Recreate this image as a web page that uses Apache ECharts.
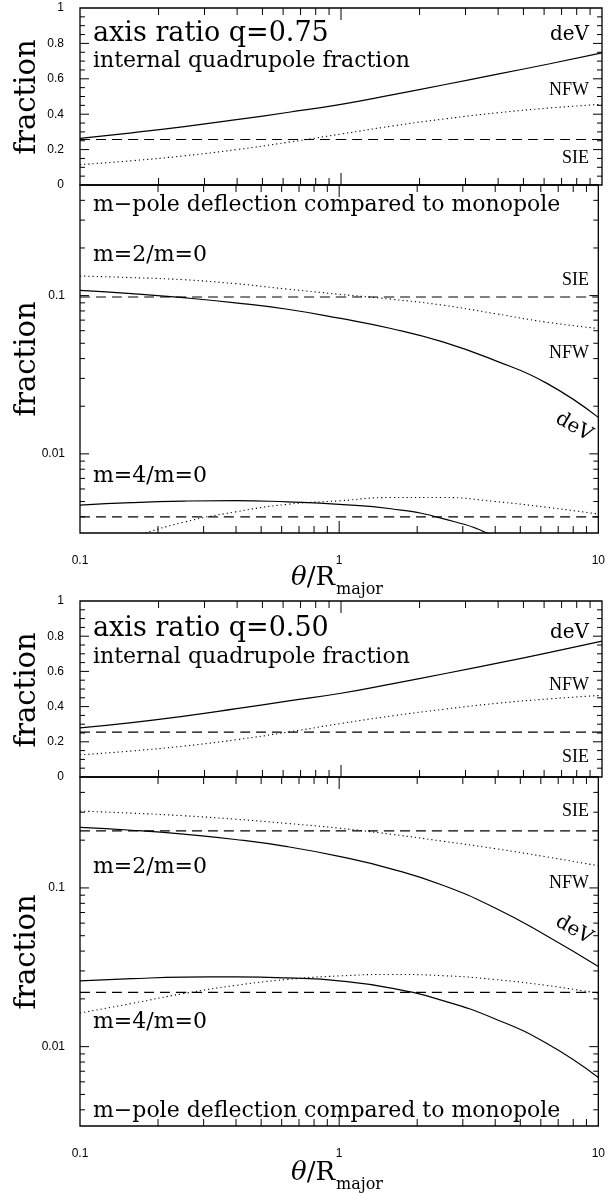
<!DOCTYPE html>
<html><head><meta charset="utf-8">
<script src="https://cdn.jsdelivr.net/npm/echarts@6/dist/echarts.min.js"></script>
<style>html,body{margin:0;padding:0;background:#fff}#c{width:608px;height:1193px}</style>
</head><body><div id="c"></div>
<script>
// ---------- data ----------
// theta / R_major sample points (five per decade)
const X = [0.1, 0.158, 0.251, 0.398, 0.631, 1, 1.585, 2.512, 3.981, 6.31, 10];

// q = 0.75 : internal quadrupole fraction
const q75_quad_deV = [0.263, 0.295, 0.330, 0.369, 0.411, 0.456, 0.511, 0.568, 0.626, 0.685, 0.746];
const q75_quad_NFW = [0.115, 0.137, 0.165, 0.200, 0.242, 0.288, 0.334, 0.374, 0.408, 0.435, 0.456];
const q75_quad_SIE = [0.257, 0.257, 0.257, 0.257, 0.257, 0.257, 0.257, 0.257, 0.257, 0.257, 0.257];
// q = 0.75 : m=2/m=0
const q75_m2_deV = [0.108, 0.103, 0.097, 0.090, 0.082, 0.072, 0.062, 0.051, 0.039, 0.028, 0.017];
const q75_m2_NFW = [0.133, 0.130, 0.126, 0.119, 0.110, 0.102, 0.095, 0.087, 0.077, 0.068, 0.062];
const q75_m2_SIE = [0.098, 0.098, 0.098, 0.098, 0.098, 0.098, 0.098, 0.098, 0.098, 0.098, 0.098];
// q = 0.75 : m=4/m=0
const q75_m4_deV = [0.00475, 0.00492, 0.00503, 0.00507, 0.00497, 0.0048, 0.0045, 0.0039, 0.0030, 0.0019, 0.0011];
const q75_m4_NFW = [0.0025, 0.0030, 0.0037, 0.0043, 0.0048, 0.00505, 0.0053, 0.0053, 0.0050, 0.0046, 0.00417];
const q75_m4_SIE = [0.0040, 0.0040, 0.0040, 0.0040, 0.0040, 0.0040, 0.0040, 0.0040, 0.0040, 0.0040, 0.0040];

// q = 0.50 : internal quadrupole fraction
const q50_quad_deV = [0.279, 0.309, 0.346, 0.388, 0.432, 0.476, 0.531, 0.588, 0.647, 0.708, 0.772];
const q50_quad_NFW = [0.126, 0.148, 0.176, 0.212, 0.256, 0.304, 0.348, 0.386, 0.419, 0.444, 0.464];
const q50_quad_SIE = [0.255, 0.255, 0.255, 0.255, 0.255, 0.255, 0.255, 0.255, 0.255, 0.255, 0.255];
// q = 0.50 : m=2/m=0
const q50_m2_deV = [0.241, 0.231, 0.218, 0.202, 0.182, 0.158, 0.132, 0.104, 0.075, 0.050, 0.032];
const q50_m2_NFW = [0.305, 0.296, 0.285, 0.271, 0.255, 0.238, 0.218, 0.197, 0.177, 0.157, 0.138];
const q50_m2_SIE = [0.229, 0.229, 0.229, 0.229, 0.229, 0.229, 0.229, 0.229, 0.229, 0.229, 0.229];
// q = 0.50 : m=4/m=0
const q50_m4_deV = [0.0260, 0.0268, 0.0274, 0.0275, 0.0271, 0.0260, 0.0234, 0.0195, 0.0150, 0.0105, 0.0064];
const q50_m4_NFW = [0.0163, 0.0187, 0.0216, 0.0243, 0.0265, 0.0279, 0.0285, 0.0280, 0.0265, 0.0243, 0.0217];
const q50_m4_SIE = [0.0220, 0.0220, 0.0220, 0.0220, 0.0220, 0.0220, 0.0220, 0.0220, 0.0220, 0.0220, 0.0220];

// ticks
const xMinorTicks = [0.2, 0.3, 0.4, 0.5, 0.6, 0.7, 0.8, 0.9, 2, 3, 4, 5, 6, 7, 8, 9];
const xMajorTicks = [1];
const linMajorTicks = [0.2, 0.4, 0.6, 0.8];
const linMinorTicks = [0.05, 0.1, 0.15, 0.25, 0.3, 0.35, 0.45, 0.5, 0.55, 0.65, 0.7, 0.75, 0.85, 0.9, 0.95];
const logMajorTicks = [0.01, 0.1];
const logMinorTicks = [0.004, 0.005, 0.006, 0.007, 0.008, 0.009, 0.02, 0.03, 0.04, 0.05, 0.06, 0.07, 0.08, 0.09, 0.2, 0.3, 0.4];
const xTickLabels = {0.1: '0.1', 1: '1', 10: '10'};
const logTickLabels = {0.01: '0.01', 0.1: '0.1'};

const LOG_MIN = 0.0031623, LOG_MAX = 0.5;

// ---------- layout ----------
const grids = [
  {left: 80, right: 6, top: 8, height: 177},
  {left: 80, right: 6, top: 185, height: 348},
  {left: 80, right: 6, top: 601, height: 176},
  {left: 80, right: 6, top: 777, height: 349}
];
const isLog = [false, true, false, true];

function near(v, t) { return Math.abs(Math.log10(v) - Math.log10(t)) < 1e-4; }

const LBL = {fontSize: 12, color: '#000', fontFamily: 'Liberation Sans'};
const xAxes = grids.map((g, i) => ({
  type: 'log', logBase: 10, gridIndex: i, min: 0.1, max: 10,
  axisLine: {show: false}, axisTick: {show: false}, splitLine: {show: false},
  axisLabel: Object.assign({
    show: isLog[i], margin: 22,
    formatter: v => { for (const k in xTickLabels) if (near(v, +k)) return xTickLabels[k]; return ''; }
  }, LBL)
}));
const yAxes = grids.map((g, i) => isLog[i] ? ({
  type: 'log', logBase: 10, gridIndex: i, min: LOG_MIN, max: LOG_MAX,
  axisLine: {show: false}, axisTick: {show: false}, splitLine: {show: false},
  axisLabel: Object.assign({
    margin: 15,
    formatter: v => { for (const k in logTickLabels) if (near(v, +k)) return logTickLabels[k]; return ''; }
  }, LBL)
}) : ({
  type: 'value', gridIndex: i, min: 0, max: 1, interval: 0.2,
  axisLine: {show: false}, axisTick: {show: false}, splitLine: {show: false},
  axisLabel: Object.assign({margin: 16}, LBL)
}));

function line(gi, ys, kind) {
  const t = kind === 'solid' ? 'solid' : (kind === 'dashed' ? [10, 6] : [1.2, 3]);
  return {
    type: 'line', xAxisIndex: gi, yAxisIndex: gi,
    data: X.map((x, k) => [x, ys[k]]),
    symbol: 'none', showSymbol: false, smooth: 0.5,
    silent: true, animation: false, clip: true,
    lineStyle: {color: '#000', width: kind === 'dotted' ? 1.1 : 1.2, type: t}, z: 3
  };
}

function tickSeries(gi) {
  const yLo = isLog[gi] ? LOG_MIN : 0, yHi = isLog[gi] ? LOG_MAX : 1;
  const yMaj = isLog[gi] ? logMajorTicks : linMajorTicks;
  const yMin = isLog[gi] ? logMinorTicks : linMinorTicks;
  const d = [];
  xMinorTicks.forEach(v => { d.push([v, yLo, 0, 7]); d.push([v, yHi, 1, 7]); });
  xMajorTicks.forEach(v => { d.push([v, yLo, 0, 12]); d.push([v, yHi, 1, 12]); });
  yMaj.forEach(v => { d.push([0.1, v, 2, 9]); d.push([10, v, 3, 9]); });
  yMin.forEach(v => { d.push([0.1, v, 2, 5]); d.push([10, v, 3, 5]); });
  return {
    type: 'custom', xAxisIndex: gi, yAxisIndex: gi, data: d, silent: true, animation: false,
    encode: {x: 0, y: 1}, clip: false, z: 6,
    renderItem: (params, api) => {
      const p = api.coord([api.value(0), api.value(1)]);
      const dir = api.value(2), L = api.value(3);
      let x2 = p[0], y2 = p[1];
      if (dir === 0) y2 -= L; else if (dir === 1) y2 += L; else if (dir === 2) x2 += L; else x2 -= L;
      return {type: 'line', shape: {x1: p[0], y1: p[1], x2: x2, y2: y2}, style: {stroke: '#000', lineWidth: 1}};
    }
  };
}

const series = [
  line(0, q75_quad_deV, 'solid'), line(0, q75_quad_NFW, 'dotted'), line(0, q75_quad_SIE, 'dashed'),
  line(1, q75_m2_deV, 'solid'), line(1, q75_m2_NFW, 'dotted'), line(1, q75_m2_SIE, 'dashed'),
  line(1, q75_m4_deV, 'solid'), line(1, q75_m4_NFW, 'dotted'), line(1, q75_m4_SIE, 'dashed'),
  line(2, q50_quad_deV, 'solid'), line(2, q50_quad_NFW, 'dotted'), line(2, q50_quad_SIE, 'dashed'),
  line(3, q50_m2_deV, 'solid'), line(3, q50_m2_NFW, 'dotted'), line(3, q50_m2_SIE, 'dashed'),
  line(3, q50_m4_deV, 'solid'), line(3, q50_m4_NFW, 'dotted'), line(3, q50_m4_SIE, 'dashed'),
  tickSeries(0), tickSeries(1), tickSeries(2), tickSeries(3)
];

// ---------- text ----------
const SERIF = 'DejaVu Serif', TIMES = 'Liberation Serif';
function T(text, x, y, o) {
  o = o || {};
  const st = {text: text, fill: '#000', fontFamily: o.ff || SERIF, fontSize: o.fs || 22,
    fontStyle: o.it ? 'italic' : 'normal', align: o.al || 'left', verticalAlign: 'middle'};
  if (o.rich) st.rich = o.rich;
  return {type: 'text', x: x, y: y, rotation: o.rot || 0, silent: true, z: 10, style: st};
}
const RX = 589, LX = 93;
const thetaRich = {
  t: {fontFamily: SERIF, fontSize: 26, fontStyle: 'italic', fill: '#000'},
  r: {fontFamily: SERIF, fontSize: 26, fill: '#000'}
};
const graphics = [
  T('axis ratio q=0.75', LX, 34, {fs: 27}),
  T('internal quadrupole fraction', LX, 61),
  T('deV', RX, 35, {fs: 20, al: 'right'}),
  T('NFW', RX, 90, {ff: TIMES, fs: 18, al: 'right'}),
  T('SIE', RX, 158, {ff: TIMES, fs: 18, al: 'right'}),

  T('m\u2212pole deflection compared to monopole', LX, 205),
  T('m=2/m=0', LX, 255),
  T('SIE', RX, 280, {ff: TIMES, fs: 18, al: 'right'}),
  T('NFW', RX, 353, {ff: TIMES, fs: 18, al: 'right'}),
  T('deV', 574, 427, {fs: 20, al: 'center', rot: -0.52}),
  T('m=4/m=0', LX, 476),

  T('axis ratio q=0.50', LX, 629, {fs: 27}),
  T('internal quadrupole fraction', LX, 657),
  T('deV', RX, 633, {fs: 20, al: 'right'}),
  T('NFW', RX, 685, {ff: TIMES, fs: 18, al: 'right'}),
  T('SIE', RX, 757, {ff: TIMES, fs: 18, al: 'right'}),

  T('SIE', RX, 811, {ff: TIMES, fs: 18, al: 'right'}),
  T('m=2/m=0', LX, 867),
  T('NFW', RX, 883, {ff: TIMES, fs: 18, al: 'right'}),
  T('deV', 574, 930, {fs: 20, al: 'center', rot: -0.52}),
  T('m=4/m=0', LX, 1022),
  T('m\u2212pole deflection compared to monopole', LX, 1111),

  T('fraction', 27, 97, {fs: 29, al: 'center', rot: Math.PI / 2}),
  T('fraction', 27, 359, {fs: 29, al: 'center', rot: Math.PI / 2}),
  T('fraction', 27, 690, {fs: 29, al: 'center', rot: Math.PI / 2}),
  T('fraction', 27, 952, {fs: 29, al: 'center', rot: Math.PI / 2}),

  T('{t|\u03b8}{r|/R}', 335, 578, {fs: 26, al: 'right', rich: thetaRich}),
  T('major', 336, 590, {fs: 16}),
  T('{t|\u03b8}{r|/R}', 335, 1173, {fs: 26, al: 'right', rich: thetaRich}),
  T('major', 336, 1185, {fs: 16})
];

const chart = echarts.init(document.getElementById('c'), null, {renderer: 'canvas'});
chart.setOption({
  animation: false,
  backgroundColor: '#fff',
  grid: grids.map(g => Object.assign({show: true, borderColor: '#000', borderWidth: 1.3, backgroundColor: 'transparent', containLabel: false}, g)),
  xAxis: xAxes,
  yAxis: yAxes,
  series: series,
  graphic: graphics
});
</script></body></html>
